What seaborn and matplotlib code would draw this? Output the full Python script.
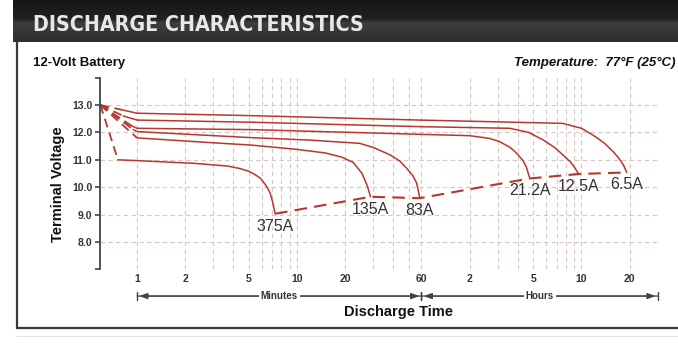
import matplotlib
matplotlib.use("Agg")
import matplotlib.pyplot as plt
import matplotlib.transforms as mtransforms
import matplotlib.ticker as mticker
from matplotlib import font_manager
from matplotlib.colors import LinearSegmentedColormap
from matplotlib.lines import Line2D
import numpy as np
import pandas as pd
import seaborn as sns

# Discharge curves: time in minutes, terminal voltage in volts
start_time = 0.59
start_volt = 13.0

curve_labels = ["375A", "135A", "83A", "21.2A", "12.5A", "6.5A"]

t_375 = [0.76, 1, 2.3, 3.7, 4.4, 5.0, 5.5, 5.9, 6.2, 6.5, 6.8, 7.05, 7.3]
v_375 = [11.0, 10.97, 10.87, 10.77, 10.68, 10.58, 10.45, 10.33, 10.17, 10.0, 9.78, 9.45, 9.03]

t_135 = [1.0, 3, 5.1, 10, 15, 19, 22.5, 25.5, 27.5, 28.8]
v_135 = [11.8, 11.62, 11.54, 11.38, 11.25, 11.1, 10.9, 10.5, 10.05, 9.65]

t_83 = [0.95, 1, 5.1, 12, 24.7, 30, 38.2, 44, 48.5, 53, 56, 58.6]
v_83 = [12.1, 12.03, 11.81, 11.72, 11.6, 11.45, 11.18, 10.95, 10.69, 10.42, 10.15, 9.6]

t_21 = [0.92, 1, 5.3, 58.6, 120, 160, 185, 215, 236, 258, 272, 285]
v_21 = [12.25, 12.15, 12.1, 11.93, 11.88, 11.78, 11.66, 11.45, 11.24, 10.98, 10.72, 10.32]

t_12 = [0.82, 1, 5.3, 58.6, 214, 280, 347, 410, 459, 510, 548, 575]
v_12 = [12.6, 12.45, 12.37, 12.21, 12.15, 12.0, 11.72, 11.44, 11.18, 10.93, 10.69, 10.48]

t_6 = [0.81, 1, 5.3, 58.6, 459, 600, 709, 830, 946, 1030, 1098, 1150]
v_6 = [12.82, 12.7, 12.61, 12.45, 12.33, 12.15, 11.9, 11.62, 11.3, 11.05, 10.81, 10.54]

curve_times = [t_375, t_135, t_83, t_21, t_12, t_6]
curve_volts = [v_375, v_135, v_83, v_21, v_12, v_6]

# axis ticks
volt_ticks = [7, 8, 9, 10, 11, 12, 13, 14]
volt_labels = ["", "8.0", "9.0", "10.0", "11.0", "12.0", "13.0", ""]
volt_grid = [8, 9, 10, 11, 12, 13]
time_ticks = [1, 2, 5, 10, 20, 60, 120, 300, 600, 1200]
time_labels = ["1", "2", "5", "10", "20", "60", "2", "5", "10", "20"]
time_grid = [1, 2, 3, 4, 5, 6, 7, 8, 9, 10, 20, 30, 40, 50, 60,
             120, 180, 240, 300, 360, 420, 480, 540, 600, 1200]
minutes_span = [1, 60]
hours_span = [60, 1800]

red = "#b8372c"
dark = "#333333"

sns.set_style("white")
plt.rcParams["font.family"] = ["Liberation Sans", "DejaVu Sans"]

# a narrow face for the banner title if one is installed
names = {f.name for f in font_manager.fontManager.ttflist}
title_font = dict(family=["Liberation Sans", "DejaVu Sans"], fontsize=15.5)
if "Liberation Sans Narrow" in names:
    title_font = dict(family=["Liberation Sans Narrow", "Liberation Sans"], fontsize=18.5)
else:
    cond = [f for f in font_manager.fontManager.ttflist
            if f.name == "DejaVu Sans" and f.stretch == "condensed"]
    if cond:
        title_font = dict(family=["DejaVu Sans"], fontstretch="condensed", fontsize=15.3)

W, H = 678, 343
fig = plt.figure(figsize=(W / 100, H / 100), dpi=100)
ax = fig.add_axes([100 / W, 1 - 269.4 / H, 558 / W, (269.4 - 77.6) / H])

# curves
for t, v, lab in zip(curve_times, curve_volts, curve_labels):
    df = pd.DataFrame({"time": t, "volt": v})
    sns.lineplot(data=df, x="time", y="volt", ax=ax, color=red, lw=1.1,
                 sort=False, estimator=None)
    sns.lineplot(x=[start_time, t[0]], y=[start_volt, v[0]], ax=ax, color=red,
                 lw=1.3, sort=False, estimator=None, linestyle=(0, (5, 3)))
    ax.annotate(lab, xy=(t[-1], v[-1]), xytext=(0, -9), textcoords="offset points",
                ha="center", va="center", fontsize=11.5, color=dark)

# end-voltage line
ends = sorted((t[-1], v[-1]) for t, v in zip(curve_times, curve_volts))
end_df = pd.DataFrame(ends, columns=["time", "volt"])
sns.lineplot(data=end_df, x="time", y="volt", ax=ax, color=red, lw=1.5,
             sort=False, estimator=None, linestyle=(0, (6, 3.5)))

ax.set_xscale("log")
ax.set_xlim(0.587, 1805)
ax.set_ylim(7, 14)
ax.set_xlabel("")
ax.set_ylabel("")

ax.xaxis.remove_overlapping_locs = False
ax.yaxis.remove_overlapping_locs = False
ax.set_xticks(time_ticks, labels=time_labels)
ax.set_xticks(time_grid, minor=True)
ax.xaxis.set_minor_formatter(mticker.NullFormatter())
ax.set_yticks(volt_ticks, labels=volt_labels)
ax.set_yticks(volt_grid, minor=True)
ax.yaxis.set_minor_formatter(mticker.NullFormatter())
ax.tick_params(axis="x", which="both", length=0, pad=3.5, labelsize=7.5,
               labelcolor=dark)
ax.tick_params(axis="y", which="major", length=3.5, width=1.2, color="#444444",
               pad=2, labelsize=7.5, labelcolor=dark, left=True)
ax.tick_params(axis="y", which="minor", length=0)
for lbl in ax.get_xticklabels() + ax.get_yticklabels():
    lbl.set_fontweight("bold")

ax.grid(False)
ax.grid(True, which="minor", color="#d8c6c6", lw=0.8, linestyle=(0, (4, 3)))
ax.set_axisbelow(True)
for s in ["top", "right", "bottom"]:
    ax.spines[s].set_visible(False)
ax.spines["left"].set_color("#444444")
ax.spines["left"].set_linewidth(1.3)

# minutes / hours brackets
trans = mtransforms.blended_transform_factory(ax.transData, ax.transAxes)
ya = -0.139
for span, name in [(minutes_span, "Minutes"), (hours_span, "Hours")]:
    for a, b in [(span[0], span[1]), (span[1], span[0])]:
        ax.annotate("", xy=(b, ya), xytext=(a, ya), xycoords=trans, textcoords=trans,
                    arrowprops=dict(arrowstyle="-|>,head_length=0.5,head_width=0.18",
                                    color="#444444", lw=0.9, shrinkA=0, shrinkB=1.5))
    for x in span:
        ax.plot([x, x], [ya - 0.02, ya + 0.02], transform=trans, color="#444444",
                lw=1.0, clip_on=False)
    ax.text(np.sqrt(span[0] * span[1]), ya, name, transform=trans, ha="center",
            va="center", fontsize=7, fontweight="bold", color=dark,
            bbox=dict(facecolor="white", edgecolor="none", pad=1.5))

# header band
hax = fig.add_axes([13 / W, 1 - 42 / H, (W - 13) / W, 42 / H])
cmap = LinearSegmentedColormap.from_list(
    "hdr", [(0, "#161616"), (0.45, "#222222"), (0.55, "#3e3e3e"), (1, "#2e2e2e")])
hax.imshow(np.linspace(0, 1, 100).reshape(-1, 1), aspect="auto", cmap=cmap,
           extent=[0, 1, 0, 1])
hax.axis("off")
fig.text(33 / W, 1 - 25 / H, "DISCHARGE CHARACTERISTICS", va="center", ha="left",
         color="#e8e8e8", fontweight="bold", **title_font)

# frame lines
fig.add_artist(Line2D([17 / W, 17 / W], [1 - 42 / H, 1 - 328 / H],
                      transform=fig.transFigure, color="#3a3a3a", lw=1.6))
fig.add_artist(Line2D([17 / W, 1], [1 - 328 / H, 1 - 328 / H],
                      transform=fig.transFigure, color="#3a3a3a", lw=1.6))
fig.add_artist(Line2D([17 / W, 1], [1 - 336 / H, 1 - 336 / H],
                      transform=fig.transFigure, color="#e4e4e4", lw=0.8))

fig.text(33 / W, 1 - 63 / H, "12-Volt Battery", va="center", ha="left",
         fontsize=9.5, fontweight="bold", color="#111111")
fig.text(675 / W, 1 - 63 / H, "Temperature:  77\u00b0F (25\u00b0C)", va="center",
         ha="right", fontsize=9.5, fontweight="bold", style="italic", color="#111111")
fig.text(58 / W, 1 - 184 / H, "Terminal Voltage", rotation=90, va="center",
         ha="center", fontsize=10.5, fontweight="bold", color="#111111")
fig.text(399 / W, 1 - 312 / H, "Discharge Time", va="center", ha="center",
         fontsize=10.5, fontweight="bold", color="#111111")

fig.savefig("out.png", dpi=100, facecolor="white")
